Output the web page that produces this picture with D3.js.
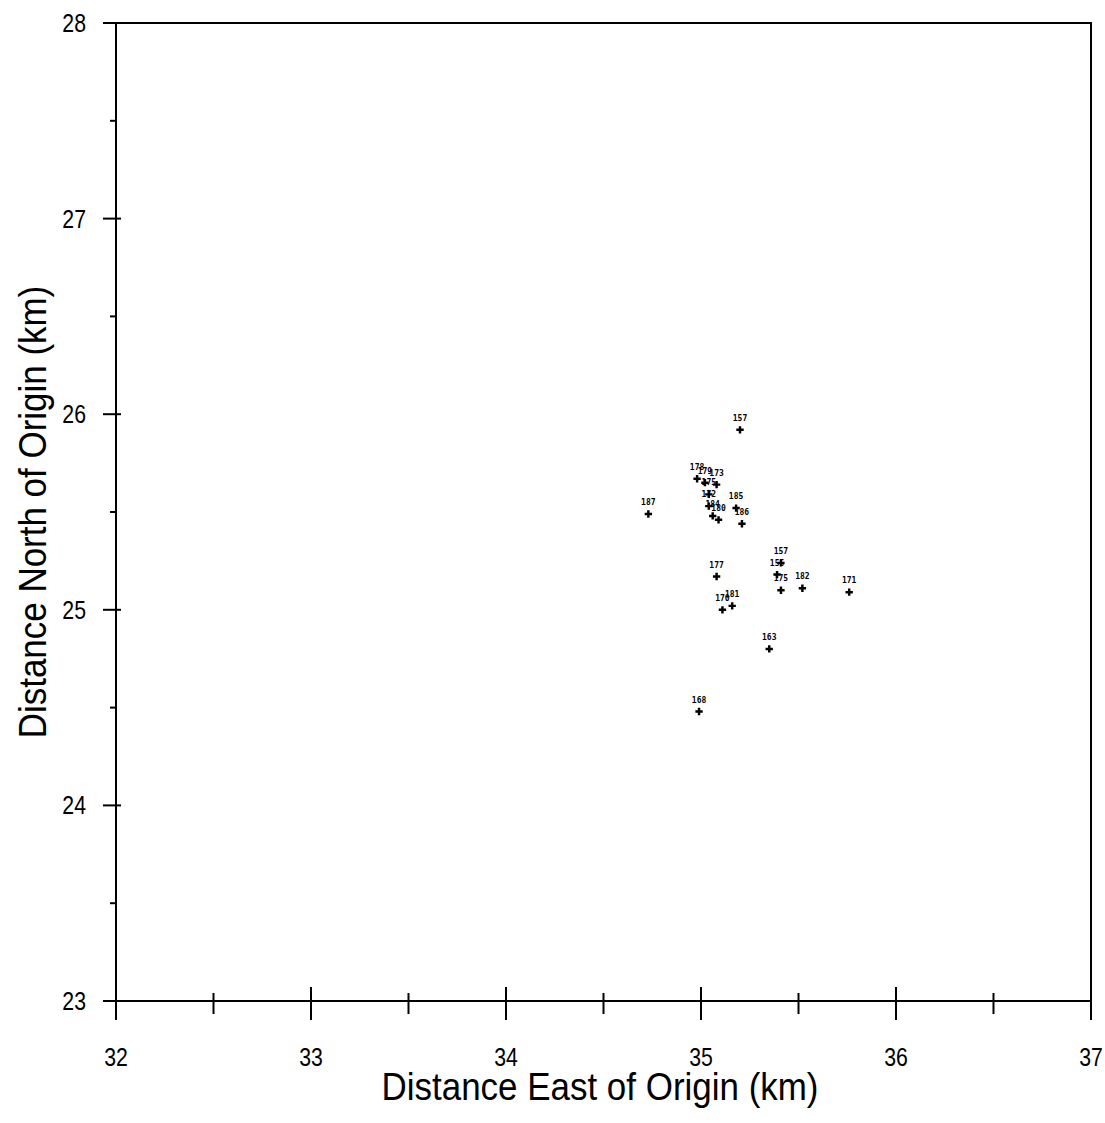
<!DOCTYPE html>
<html><head><meta charset="utf-8">
<script src="https://cdn.jsdelivr.net/npm/d3@7"></script>
<style>body{margin:0;background:#fff}svg{display:block}</style>
</head><body>
<script>
const pointLabels = ["157","178","179","173","175","172","184","180","185","186","187","177","157","155","175","182","171","170","181","163","168"];
const eastKm  = [35.20,34.98,35.02,35.08,35.04,35.04,35.06,35.09,35.18,35.21,34.73,35.08,35.41,35.39,35.41,35.52,35.76,35.11,35.16,35.35,34.99];
const northKm = [25.92,25.67,25.65,25.64,25.59,25.53,25.48,25.46,25.52,25.44,25.49,25.17,25.24,25.18,25.10,25.11,25.09,25.00,25.02,24.80,24.48];
const xTicks = [32,33,34,35,36,37];
const yTicks = [23,24,25,26,27,28];
const xTitle = "Distance East of Origin (km)";
const yTitle = "Distance North of Origin (km)";

const W=1105,H=1123;
const L=116,R=1091,T=23,B=1001;
const svg=d3.select("body").append("svg").attr("width",W).attr("height",H);
const x=d3.scaleLinear().domain([32,37]).range([L,R]);
const y=d3.scaleLinear().domain([23,28]).range([B,T]);
const font="'Liberation Sans',Arial,sans-serif";

svg.append("path").attr("d",`M${L},${B}V${T}H${R}V${B}H${L}`).attr("fill","none").attr("stroke","#000").attr("stroke-width",2);

const xMinor=d3.range(32.5,37,1);
svg.append("g").selectAll("line").data(xTicks).join("line")
  .attr("x1",d=>x(d)).attr("x2",d=>x(d)).attr("y1",B-14).attr("y2",B+19).attr("stroke","#000").attr("stroke-width",2);
svg.append("g").selectAll("line").data(xMinor).join("line")
  .attr("x1",d=>x(d)).attr("x2",d=>x(d)).attr("y1",B-8).attr("y2",B+13).attr("stroke","#000").attr("stroke-width",2);
svg.append("g").selectAll("text").data(xTicks).join("text")
  .attr("transform",d=>`translate(${x(d)},1066) scale(0.85,1)`).attr("text-anchor","middle")
  .attr("font-family",font).attr("font-size",25).text(d=>d);

const yMinor=d3.range(23.5,28,1);
svg.append("g").selectAll("line").data(yTicks).join("line")
  .attr("x1",L-13).attr("x2",L+5).attr("y1",d=>y(d)).attr("y2",d=>y(d)).attr("stroke","#000").attr("stroke-width",2);
svg.append("g").selectAll("line").data(yMinor).join("line")
  .attr("x1",L-6).attr("x2",L).attr("y1",d=>y(d)).attr("y2",d=>y(d)).attr("stroke","#000").attr("stroke-width",2);
svg.append("g").selectAll("text").data(yTicks).join("text")
  .attr("transform",d=>`translate(86,${y(d)+9}) scale(0.85,1)`).attr("text-anchor","end")
  .attr("font-family",font).attr("font-size",25).text(d=>d);

svg.append("text").attr("transform","translate(600,1100) scale(0.92,1)").attr("text-anchor","middle")
  .attr("font-family",font).attr("font-size",38).text(xTitle);
svg.append("text").attr("transform","translate(46,512) rotate(-90) scale(0.92,1)").attr("text-anchor","middle")
  .attr("font-family",font).attr("font-size",38).text(yTitle);

const pts=eastKm.map((e,i)=>({e,n:northKm[i],lab:pointLabels[i]}));
const g=svg.append("g");
g.selectAll("path").data(pts).join("path")
  .attr("transform",d=>`translate(${x(d.e)},${y(d.n)})`)
  .attr("d",d3.symbol(d3.symbolCross,30)).attr("fill","#000");
g.selectAll("text").data(pts).join("text")
  .attr("x",d=>x(d.e)).attr("y",d=>y(d.n)-9).attr("text-anchor","middle")
  .attr("font-family","'DejaVu Sans Mono',monospace").attr("font-weight","bold").attr("font-size",8).text(d=>d.lab);
</script>
</body></html>
